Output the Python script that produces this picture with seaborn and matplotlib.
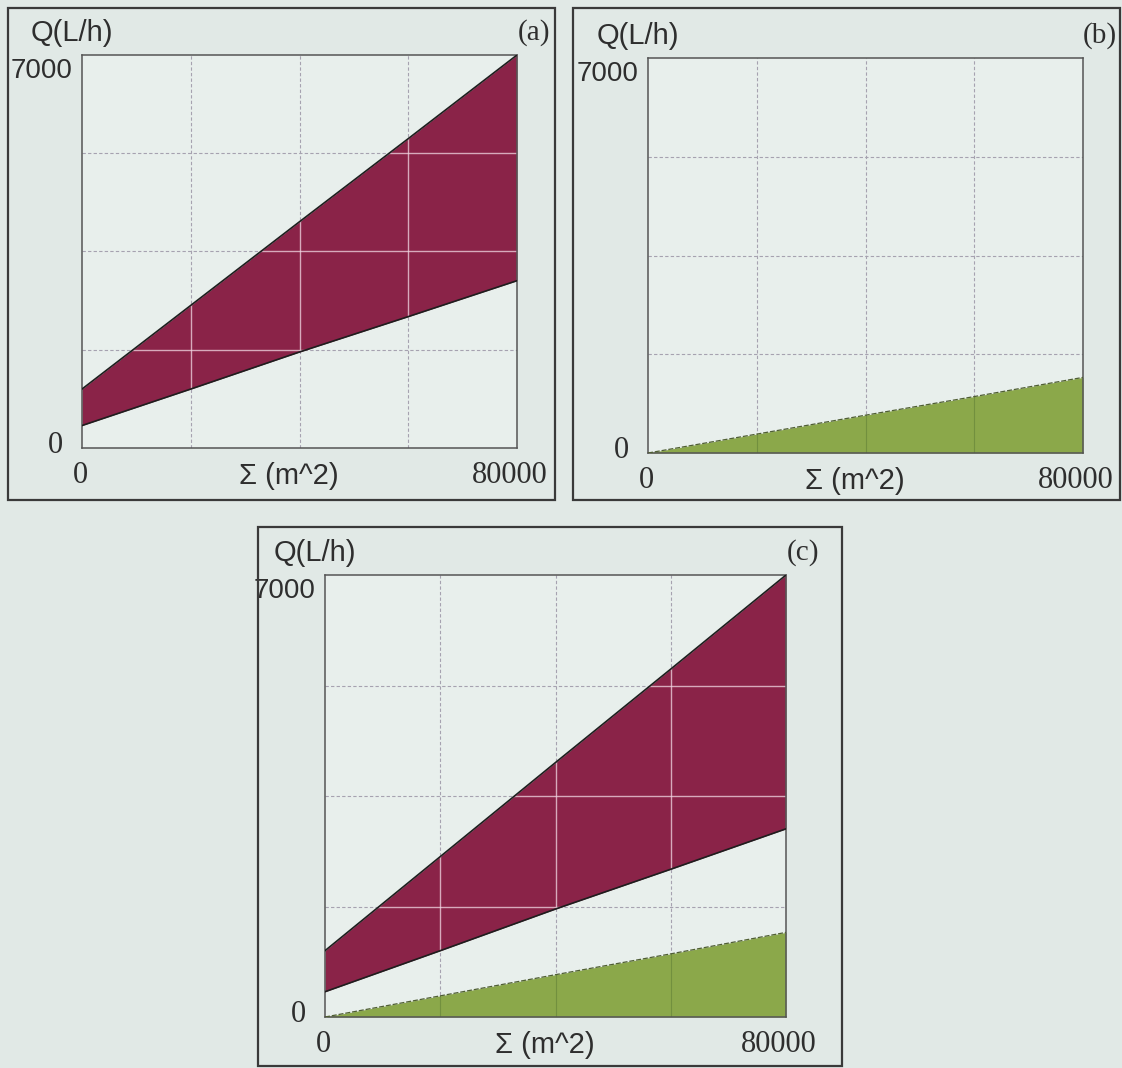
import matplotlib
matplotlib.use("Agg")
import matplotlib.pyplot as plt
import seaborn as sns
import pandas as pd
from matplotlib.patches import Rectangle

sns.set_theme(style="white")
plt.rcParams['font.family'] = ['Liberation Sans', 'DejaVu Sans']

# ---- data ----
area = [0, 20000, 40000, 60000, 80000]            # Σ (m^2)
q_red_upper = [1050, 2540, 4030, 5510, 7000]      # Q (L/h)
q_red_lower = [400, 1050, 1710, 2340, 2980]
q_green = [0, 335, 670, 1000, 1340]
x_ticks = [0, 80000]
y_ticks = [0, 7000]
panel_labels = ["(a)", "(b)", "(c)"]

df = pd.DataFrame({"area": area, "upper": q_red_upper,
                   "lower": q_red_lower, "green": q_green})

BG = "#E1E9E6"
AX_BG = "#E8EFEC"
RED = "#8A2348"
GREEN = "#8BA84A"
GRID = "#A6A2B0"
TXT = "#2E2E2E"

W, H = 1122, 1068
fig = plt.figure(figsize=(W / 100, H / 100), dpi=100, facecolor=BG)

def fr(x0, y0, x1, y1):
    return [x0 / W, 1 - y1 / H, (x1 - x0) / W, (y1 - y0) / H]

panels = [
    dict(ax=fr(82, 55, 517, 448), box=(8, 8, 555, 500), red=True, green=False, lab=panel_labels[0]),
    dict(ax=fr(648, 58, 1083, 453), box=(573, 8, 1120, 500), red=False, green=True, lab=panel_labels[1]),
    dict(ax=fr(325, 575, 786, 1017), box=(258, 527, 842, 1066), red=True, green=True, lab=panel_labels[2]),
]

for p in panels:
    bx0, by0, bx1, by1 = p["box"]
    fig.add_artist(Rectangle((bx0 / W, 1 - by1 / H), (bx1 - bx0) / W, (by1 - by0) / H,
                             transform=fig.transFigure, fill=False,
                             edgecolor="#3A3A3A", linewidth=1.6))

    ax = fig.add_axes(p["ax"])
    ax.set_facecolor(AX_BG)
    ax.set_xlim(x_ticks[0], x_ticks[-1])
    ax.set_ylim(y_ticks[0], y_ticks[-1])

    gx = [20000, 40000, 60000]
    gy = [1750, 3500, 5250]
    for v in gx:
        ax.axvline(v, color=GRID, lw=0.8, ls=(0, (3, 2)), zorder=1)
    for v in gy:
        ax.axhline(v, color=GRID, lw=0.8, ls=(0, (3, 2)), zorder=1)

    if p["green"]:
        gpoly = ax.fill_between(df["area"], 0, df["green"], color=GREEN, lw=0, zorder=2)
        sns.lineplot(data=df, x="area", y="green", ax=ax, color="#4F5E33",
                     lw=0.9, ls=(0, (4, 1.5)), zorder=3)
        for v in gx:
            l = ax.axvline(v, color="#72903E", lw=0.8, zorder=2.5)
            l.set_clip_path(gpoly.get_paths()[0], ax.transData)
    if p["red"]:
        rpoly = ax.fill_between(df["area"], df["lower"], df["upper"], color=RED, lw=0, zorder=2)
        clip = rpoly.get_paths()[0]
        for v in gx:
            l = ax.axvline(v, color="#F2D8E4", lw=1.0, alpha=0.75, zorder=2.5)
            l.set_clip_path(clip, ax.transData)
        for v in gy:
            l = ax.axhline(v, color="#F2D8E4", lw=1.0, alpha=0.75, zorder=2.5)
            l.set_clip_path(clip, ax.transData)
        sns.lineplot(data=df, x="area", y="upper", ax=ax, color="#1E1E1E", lw=1.2, zorder=3)
        sns.lineplot(data=df, x="area", y="lower", ax=ax, color="#1E1E1E", lw=1.2, zorder=3)

    ax.set_xticks([])
    ax.set_yticks([])
    ax.set_xlabel("")
    ax.set_ylabel("")
    for s in ax.spines.values():
        s.set_color("#555555")
        s.set_linewidth(1.1)

    ytr = ax.get_yaxis_transform()
    xtr = ax.get_xaxis_transform()
    # y tick labels
    ax.annotate(f"{y_ticks[-1]}", xy=(0, y_ticks[-1]), xycoords=ytr, xytext=(-7, -2),
                textcoords="offset points", ha="right", va="top", fontsize=20,
                color=TXT, annotation_clip=False)
    ax.annotate(f"{y_ticks[0]}", xy=(0, y_ticks[0]), xycoords=ytr, xytext=(-14, 2),
                textcoords="offset points", ha="right", va="center", fontsize=22,
                family=["Liberation Serif"], color=TXT, annotation_clip=False)
    # x tick labels
    ax.annotate(f"{x_ticks[0]}", xy=(x_ticks[0], 0), xycoords=xtr, xytext=(-1, -20),
                textcoords="offset points", ha="center", va="center", fontsize=22,
                family=["Liberation Serif"], color=TXT, annotation_clip=False)
    ax.annotate(f"{x_ticks[-1]}", xy=(x_ticks[-1], 0), xycoords=xtr, xytext=(-5, -20),
                textcoords="offset points", ha="center", va="center", fontsize=22,
                family=["Liberation Serif"], color=TXT, annotation_clip=False)
    ax.annotate("Σ (m^2)", xy=(0.5, 0), xycoords="axes fraction", xytext=(-8, -20),
                textcoords="offset points", ha="center", va="center", fontsize=21,
                color=TXT, annotation_clip=False)
    ax.annotate("Q(L/h)", xy=(0, 1), xycoords="axes fraction", xytext=(-7, 16),
                textcoords="offset points", ha="center", va="center", fontsize=21,
                color=TXT, annotation_clip=False)
    ax.annotate(p["lab"], xy=(1, 1), xycoords="axes fraction", xytext=(12, 16),
                textcoords="offset points", ha="center", va="center", fontsize=21,
                family=["Liberation Serif"], color=TXT, annotation_clip=False)

fig.savefig("out.png", dpi=100, facecolor=BG)
